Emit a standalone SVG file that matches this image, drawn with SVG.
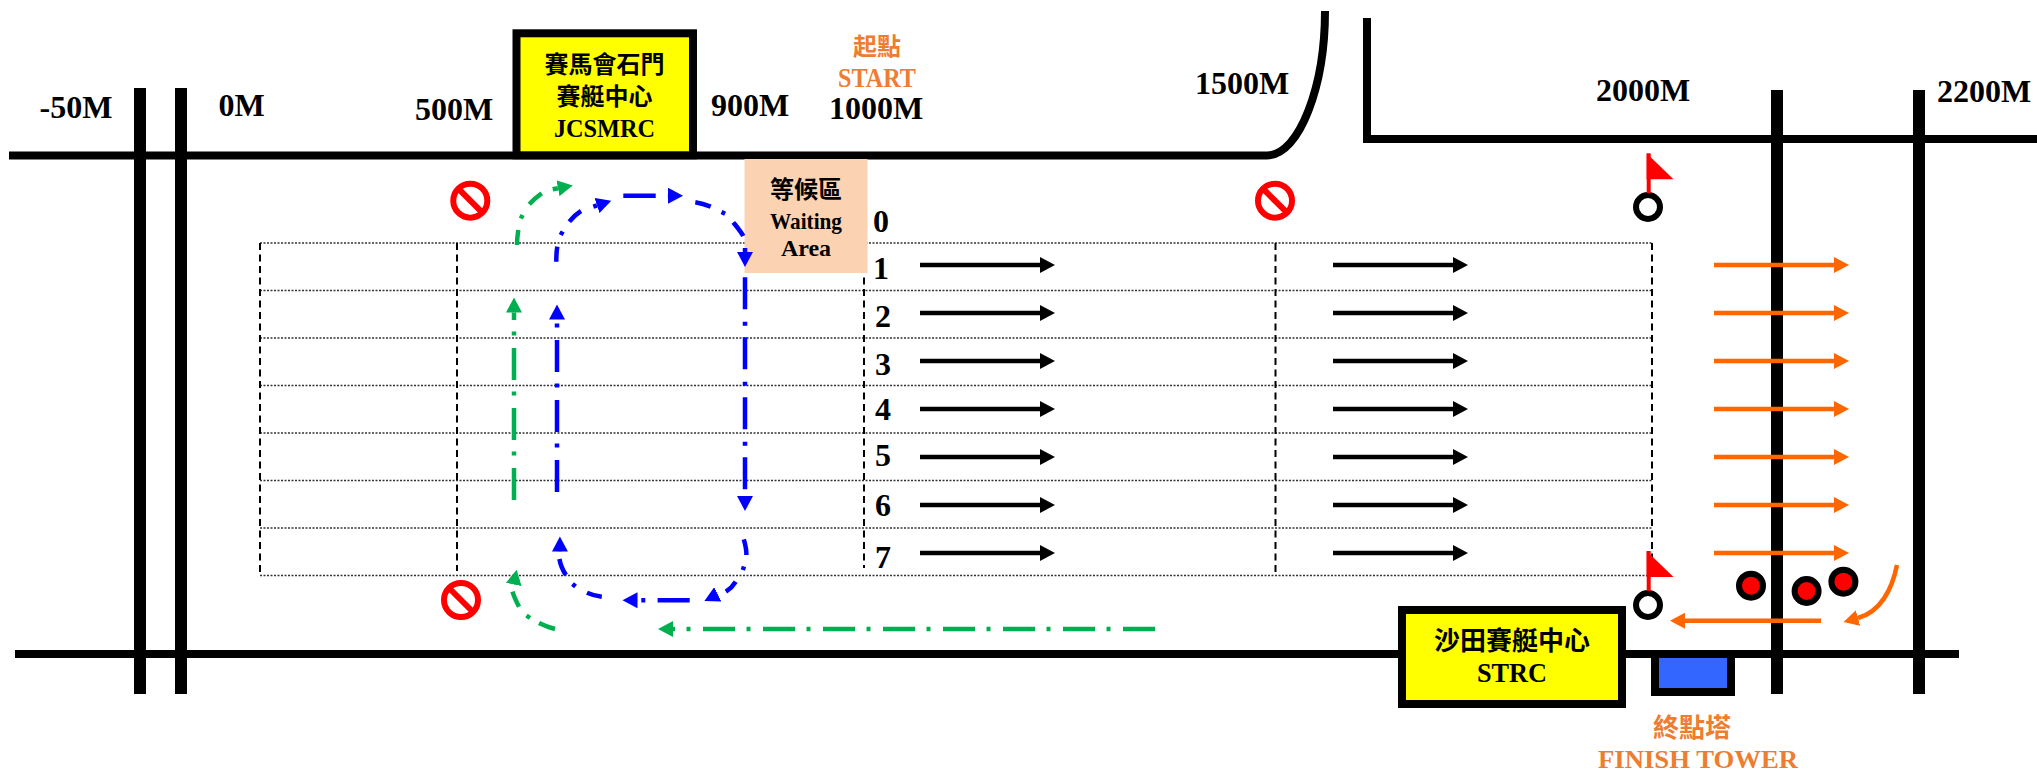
<svg xmlns="http://www.w3.org/2000/svg" xmlns:xlink="http://www.w3.org/1999/xlink" width="2037" height="771" viewBox="0 0 2037 771">
<style>
text{font-family:"Liberation Serif","Noto Sans CJK TC",serif;font-weight:bold;fill:#000;text-anchor:middle}
.c{font-family:"Noto Sans CJK TC","Liberation Serif",sans-serif;font-weight:700}
.d{font-size:32px}
.o{fill:#ED7D31}
.road{stroke:#000;stroke-width:8;fill:none}
.bar{stroke:#000;stroke-width:12;fill:none}
.row{stroke:#333;stroke-width:1.5;stroke-dasharray:2 1.5}
.col{stroke:#000;stroke-width:2;stroke-dasharray:7 4.5;fill:none}
.box{fill:#FF0;stroke:#000;stroke-width:8}
.bk{stroke:#000;stroke-width:4.5;fill:none;marker-end:url(#hk)}
.or{stroke:#F60;stroke-width:4.5;fill:none;marker-end:url(#ho)}
.gr{stroke:#00B050;stroke-width:4.5;fill:none;marker-end:url(#hg)}
.bl{stroke:#00F;stroke-width:4.5;fill:none;marker-end:url(#hb)}
.buoy{fill:#fff;stroke:#000;stroke-width:6}
.boat{fill:#F00;stroke:#000;stroke-width:6}
</style>
<defs>
<marker id="hk" markerUnits="userSpaceOnUse" markerWidth="16" markerHeight="16" refX="0" refY="8" orient="auto"><path d="M0 0L15 8L0 16Z" fill="#000"/></marker>
<marker id="ho" markerUnits="userSpaceOnUse" markerWidth="16" markerHeight="16" refX="0" refY="8" orient="auto"><path d="M0 0L15 8L0 16Z" fill="#F60"/></marker>
<marker id="hg" markerUnits="userSpaceOnUse" markerWidth="16" markerHeight="16" refX="0" refY="8" orient="auto"><path d="M0 0L15 8L0 16Z" fill="#00B050"/></marker>
<marker id="hb" markerUnits="userSpaceOnUse" markerWidth="16" markerHeight="16" refX="0" refY="8" orient="auto"><path d="M0 0L15 8L0 16Z" fill="#00F"/></marker>
<g id="nosign"><circle r="17" fill="#fff" stroke="#F00" stroke-width="6"/><path d="M-12 -12L12 12" stroke="#F00" stroke-width="6"/></g>
<g id="flag"><path d="M1648.7 0V40" stroke="#F00" stroke-width="4"/><path d="M1646.6 0L1673.5 26H1646.6Z" fill="#F00"/></g>
</defs>

<g id="grid">
<path class="row" d="M260 243H1652M260 290.5H1652M260 338H1652M260 385.5H1652M260 433H1652M260 480.5H1652M260 528H1652M260 575.5H1652"/>
<path class="col" d="M260 243V575M457 243V571M864 243V568M1275.5 243V575M1652 243V575"/>
</g>

<g id="roads">
<path class="road" d="M9 155.5H1267C1300 155 1325 85 1325 11"/>
<path class="road" d="M1367 18V139H2037"/>
<path class="road" d="M15 654H1959"/>
<path class="bar" d="M140 88V694M181 88V694M1777 90V694M1919 90V694"/>
</g>

<g id="waiting-area">
<rect x="744.5" y="159" width="123" height="114" fill="#FBD3B3"/>
<text class="c" x="806" y="198" font-size="24">等候區</text>
<text x="806" y="229" font-size="23" textLength="72" lengthAdjust="spacingAndGlyphs">Waiting</text>
<text x="806" y="256" font-size="24">Area</text>
</g>

<g id="connectors">
<g id="lane-arrows">
<path class="bk" d="M920 265H1040"/><path class="bk" d="M920 313H1040"/><path class="bk" d="M920 361H1040"/><path class="bk" d="M920 409H1040"/><path class="bk" d="M920 457H1040"/><path class="bk" d="M920 505H1040"/><path class="bk" d="M920 553H1040"/>
<path class="bk" d="M1333 265H1453"/><path class="bk" d="M1333 313H1453"/><path class="bk" d="M1333 361H1453"/><path class="bk" d="M1333 409H1453"/><path class="bk" d="M1333 457H1453"/><path class="bk" d="M1333 505H1453"/><path class="bk" d="M1333 553H1453"/>
</g>
<g id="finish-arrows">
<path class="or" d="M1714 265H1834"/><path class="or" d="M1714 313H1834"/><path class="or" d="M1714 361H1834"/><path class="or" d="M1714 409H1834"/><path class="or" d="M1714 457H1834"/><path class="or" d="M1714 505H1834"/><path class="or" d="M1714 553H1834"/>
<path class="or" d="M1821 620.7H1685"/>
<path class="or" d="M1897 565C1892 590 1880 612 1858 618"/>
</g>
<g id="green-route">
<path class="gr" stroke-dasharray="32 12.5 4 11.5" d="M1155 629H673"/>
<path class="gr" d="M555 629C547 627 543 625 539 623M530 618L526.500 615.500M519 606.700C516 601 514 597 512.500 591.700M513.680 584.600L513.700 584.500"/>
<path class="gr" stroke-dasharray="32 12.5 4 11.5" d="M514 500V312.500"/>
<path class="gr" d="M517 245C517 240 517.500 235 518.300 230M520.800 218.500L522.600 215M529.300 204.300C533 200 537 196.500 541.700 193.300M552.700 189.300L558 188.300"/>
</g>
<g id="blue-route">
<path class="bl" stroke-dasharray="32 12.5 4 11.5" d="M557 492V319.500"/>
<path class="bl" d="M556.300 261.700C556.300 256 556.500 251 557.300 246.700M560.700 235L562.700 231.500M569.300 221.700C573 217 577 213.500 581 211M593.300 206.700L597 205.500"/>
<path class="bl" d="M623.300 195.700H655.700M667.900 195.700H668"/>
<path class="bl" d="M695.300 202.300C701 203.200 706 204.800 710.700 206.700M721.500 212L725.100 213.700M733.300 222.300C737 227 740.500 231 743.300 236M745 248V251.900"/>
<path class="bl" stroke-dasharray="32 12.500 4 11.500" d="M745 277.300V496"/>
<path class="bl" d="M743.800 539.300C745.500 545 746.500 550 746.400 555M744 566.500L742.800 570M735.700 581.700C733 586 729.500 589.300 725.900 591.700M718 594.200L717.800 594.300"/>
<path class="bl" d="M689.700 600.300H657.600M645.300 600.300H641.300M637.600 600.300H637.500"/>
<path class="bl" d="M601.800 596.700C596 596 591 594.500 587 592.700M575.500 586.500L572.500 584M566 575C562.500 570 560.500 565 559.400 559M559.900 551.800L559.900 551.600"/>
</g>
</g>

<g id="jcsmrc"><rect class="box" x="516.500" y="33.300" width="176.500" height="122"/>
<text class="c" x="604.500" y="73" font-size="24">賽馬會石門</text>
<text class="c" x="604.500" y="105" font-size="24">賽艇中心</text>
<text x="604.500" y="137" font-size="26" textLength="101" lengthAdjust="spacingAndGlyphs">JCSMRC</text></g>

<g id="strc"><rect class="box" x="1402" y="610" width="220" height="94"/>
<text class="c" x="1512" y="650" font-size="26">沙田賽艇中心</text>
<text x="1512" y="682" font-size="27" textLength="70" lengthAdjust="spacingAndGlyphs">STRC</text></g>

<g id="finish-tower"><rect x="1655" y="654" width="76" height="38" fill="#36F" stroke="#000" stroke-width="8"/>
<text class="c o" x="1692" y="737" font-size="26">終點塔</text>
<text class="o" x="1698" y="768" font-size="26" textLength="200" lengthAdjust="spacingAndGlyphs">FINISH TOWER</text></g>

<g id="labels">
<text class="d" x="76" y="118">-50M</text>
<text class="d" x="241.500" y="116">0M</text>
<text class="d" x="454" y="120">500M</text>
<text class="d" x="750" y="116">900M</text>
<text class="d" x="876" y="119">1000M</text>
<text class="d" x="1242" y="94">1500M</text>
<text class="d" x="1643" y="101">2000M</text>
<text class="d" x="1984" y="102">2200M</text>
<text class="c o" x="877" y="55" font-size="24">起點</text>
<text class="o" x="877" y="87" font-size="28" textLength="78" lengthAdjust="spacingAndGlyphs">START</text>
</g>

<g id="lanes">
<text class="d" x="881" y="232">0</text>
<text class="d" x="881" y="279">1</text>
<text class="d" x="883" y="327">2</text>
<text class="d" x="883" y="375">3</text>
<text class="d" x="883" y="420">4</text>
<text class="d" x="883" y="466">5</text>
<text class="d" x="883" y="516">6</text>
<text class="d" x="883" y="568">7</text>
</g>

<g id="nosign-1"><use xlink:href="#nosign" href="#nosign" x="470.300" y="200.700"/></g>
<g id="nosign-2"><use xlink:href="#nosign" href="#nosign" x="1275" y="200.700"/></g>
<g id="nosign-3"><use xlink:href="#nosign" href="#nosign" x="461" y="600"/></g>

<g id="buoy-top"><circle class="buoy" cx="1648" cy="207" r="12"/><use xlink:href="#flag" href="#flag" y="153.300"/></g>
<g id="buoy-bottom"><circle class="buoy" cx="1648" cy="605" r="12"/><use xlink:href="#flag" href="#flag" y="551"/></g>
<g id="boat-1"><circle class="boat" cx="1751" cy="585.700" r="12"/></g>
<g id="boat-2"><circle class="boat" cx="1806.600" cy="591" r="12"/></g>
<g id="boat-3"><circle class="boat" cx="1843.400" cy="581.700" r="12"/></g>
</svg>
